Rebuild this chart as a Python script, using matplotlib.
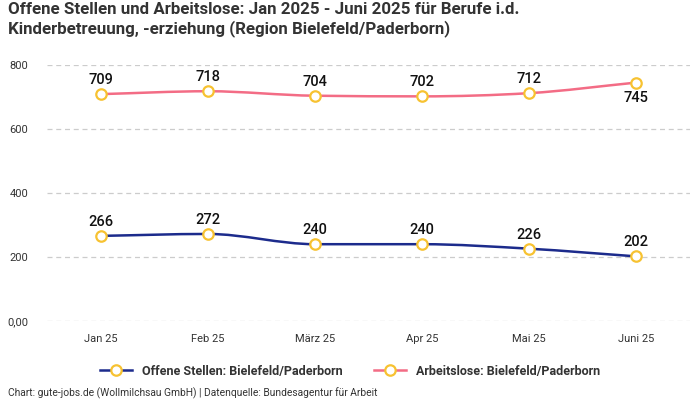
import matplotlib
matplotlib.use('Agg')
import matplotlib.pyplot as plt
from matplotlib.path import Path
from matplotlib.patches import PathPatch
from matplotlib.lines import Line2D

plt.rcParams['font.family'] = ['Roboto', 'DejaVu Sans']

months = ['Jan 25', 'Feb 25', 'März 25', 'Apr 25', 'Mai 25', 'Juni 25']
offene = [266, 272, 240, 240, 226, 202]
arbeitslose = [709, 718, 704, 702, 712, 745]
yticks = [0, 200, 400, 600, 800]
ytick_labels = ['0,00', '200', '400', '600', '800']

BLUE = '#1c2b8c'
PINK = '#f36c85'
YELLOW = '#f7c231'
TEXT = '#333333'


def monotone_path(xs, ys):
    # monotone cubic (like d3.curveMonotoneX) as bezier segments
    n = len(xs)
    d = [(ys[i + 1] - ys[i]) / (xs[i + 1] - xs[i]) for i in range(n - 1)]
    m = [0.0] * n
    m[0], m[-1] = d[0], d[-1]
    for i in range(1, n - 1):
        if d[i - 1] * d[i] <= 0:
            continue
        p = (d[i - 1] + d[i]) / 2
        m[i] = (1 if d[i] > 0 else -1) * min(2 * min(abs(d[i - 1]), abs(d[i])), abs(p))
    verts = [(xs[0], ys[0])]
    codes = [Path.MOVETO]
    for i in range(n - 1):
        h = (xs[i + 1] - xs[i]) / 3
        verts += [(xs[i] + h, ys[i] + m[i] * h),
                  (xs[i + 1] - h, ys[i + 1] - m[i + 1] * h),
                  (xs[i + 1], ys[i + 1])]
        codes += [Path.CURVE4] * 3
    return Path(verts, codes)


fig = plt.figure(figsize=(7, 4), dpi=100)
ax = fig.add_axes([47.5 / 700, 1 - 321 / 400, 642 / 700, 256 / 400])
x = list(range(len(months)))

for vals, color in ((offene, BLUE), (arbeitslose, PINK)):
    ax.add_patch(PathPatch(monotone_path(x, vals), fill=False,
                           edgecolor=color, lw=1.8, zorder=3))
    ax.plot(x, vals, 'o', ms=7.5, mfc='white', mec=YELLOW, mew=1.6,
            zorder=4, clip_on=False)

for i, v in enumerate(offene):
    ax.annotate(str(v), (i, v), xytext=(0, 5), textcoords='offset points',
                ha='center', va='bottom', fontsize=10.5, fontweight='medium',
                color='#111111')
for i, v in enumerate(arbeitslose):
    below = i == len(arbeitslose) - 1
    ax.annotate(str(v), (i, v), xytext=(0, -6 if below else 5),
                textcoords='offset points', ha='center',
                va='top' if below else 'bottom', fontsize=10.5,
                fontweight='medium', color='#111111')

ax.set_xlim(-0.5, len(months) - 0.5)
ax.set_ylim(0, 800)
ax.set_xticks(x)
ax.set_xticklabels(months, fontsize=8, color=TEXT)
ax.set_yticks(yticks)
ax.set_yticklabels(ytick_labels, fontsize=8, color=TEXT)
ax.tick_params(length=0, pad=9)
ax.tick_params(axis='y', pad=14)
ax.grid(axis='y', color='#cccccc', ls=(0, (4, 3)), lw=0.9)
ax.set_axisbelow(True)
for s in ax.spines.values():
    s.set_visible(False)

fig.text(8 / 700, 1 - 2 / 400,
         'Offene Stellen und Arbeitslose: Jan 2025 - Juni 2025 für Berufe i.d.\n'
         'Kinderbetreuung, -erziehung (Region Bielefeld/Paderborn)',
         ha='left', va='top', fontsize=12.2, fontweight='bold', color=TEXT,
         linespacing=1.2)

handles = [Line2D([], [], color=BLUE, lw=1.8, marker='o', ms=7.5, mfc='white',
                  mec=YELLOW, mew=1.6),
           Line2D([], [], color=PINK, lw=1.8, marker='o', ms=7.5, mfc='white',
                  mec=YELLOW, mew=1.6)]
fig.legend(handles, ['Offene Stellen: Bielefeld/Paderborn',
                     'Arbeitslose: Bielefeld/Paderborn'],
           loc='center', bbox_to_anchor=(350 / 700, 1 - 371 / 400), ncol=2,
           frameon=False, handlelength=2.6, columnspacing=2.5,
           prop={'size': 9, 'weight': 'bold'}, labelcolor=TEXT)

fig.text(8 / 700, 1 - 393 / 400,
         'Chart: gute-jobs.de (Wollmilchsau GmbH) | Datenquelle: Bundesagentur für Arbeit',
         ha='left', va='center', fontsize=7.4, color=TEXT)

fig.savefig('out.png', dpi=100)
